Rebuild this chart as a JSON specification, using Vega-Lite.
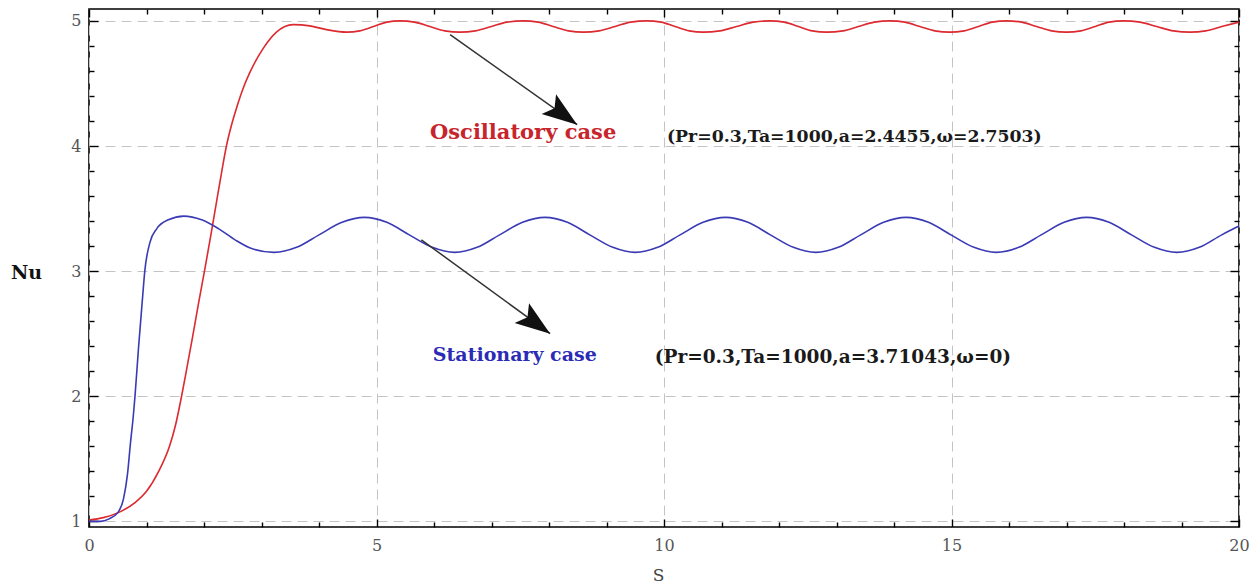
{
  "$schema": "https://vega.github.io/schema/vega-lite/v6.json",
  "width": 1150,
  "height": 518,
  "autosize": {"type": "none"},
  "padding": {"left": 89, "top": 9, "right": 17, "bottom": 58},
  "background": "white",
  "config": {
    "view": {"stroke": "black", "strokeWidth": 1.6},
    "axis": {"domain": false, "tickColor": "black", "tickWidth": 1.4}
  },
  "datasets": {
    "osc": [
      {"s": 0, "nu": 1.01}, {"s": 0.25, "nu": 1.03}, {"s": 0.51, "nu": 1.07}, {"s": 0.8, "nu": 1.15},
      {"s": 1.0, "nu": 1.24}, {"s": 1.2, "nu": 1.39}, {"s": 1.4, "nu": 1.6}, {"s": 1.5, "nu": 1.76},
      {"s": 1.61, "nu": 2.0}, {"s": 1.7, "nu": 2.22}, {"s": 1.8, "nu": 2.47}, {"s": 1.9, "nu": 2.73},
      {"s": 2.02, "nu": 3.03}, {"s": 2.12, "nu": 3.29}, {"s": 2.22, "nu": 3.56}, {"s": 2.31, "nu": 3.8},
      {"s": 2.39, "nu": 4.0}, {"s": 2.48, "nu": 4.17}, {"s": 2.57, "nu": 4.31}, {"s": 2.68, "nu": 4.46},
      {"s": 2.8, "nu": 4.59}, {"s": 3.03, "nu": 4.78}, {"s": 3.26, "nu": 4.91}, {"s": 3.55, "nu": 4.97},
      {"s": 3.84, "nu": 4.96}, {"s": 4.13, "nu": 4.93}, {"s": 4.48, "nu": 4.91}, {"s": 4.71, "nu": 4.92},
      {"s": 4.95, "nu": 4.955}, {"s": 5.18, "nu": 4.99}, {"s": 5.41, "nu": 5.0}, {"s": 5.66, "nu": 4.99},
      {"s": 5.93, "nu": 4.955}, {"s": 6.19, "nu": 4.92}, {"s": 6.45, "nu": 4.91}, {"s": 6.72, "nu": 4.92},
      {"s": 7.0, "nu": 4.955}, {"s": 7.27, "nu": 4.99}, {"s": 7.55, "nu": 5.0}, {"s": 7.81, "nu": 4.99},
      {"s": 8.07, "nu": 4.955}, {"s": 8.34, "nu": 4.92}, {"s": 8.6, "nu": 4.91}, {"s": 8.87, "nu": 4.92},
      {"s": 9.15, "nu": 4.955}, {"s": 9.42, "nu": 4.99}, {"s": 9.7, "nu": 5.0}, {"s": 9.95, "nu": 4.99},
      {"s": 10.19, "nu": 4.955}, {"s": 10.44, "nu": 4.92}, {"s": 10.68, "nu": 4.91}, {"s": 10.97, "nu": 4.92},
      {"s": 11.26, "nu": 4.955}, {"s": 11.55, "nu": 4.99}, {"s": 11.84, "nu": 5.0}, {"s": 12.09, "nu": 4.99},
      {"s": 12.34, "nu": 4.955}, {"s": 12.58, "nu": 4.92}, {"s": 12.83, "nu": 4.91}, {"s": 13.11, "nu": 4.92},
      {"s": 13.38, "nu": 4.955}, {"s": 13.66, "nu": 4.99}, {"s": 13.93, "nu": 5.0}, {"s": 14.19, "nu": 4.99},
      {"s": 14.45, "nu": 4.955}, {"s": 14.71, "nu": 4.92}, {"s": 14.97, "nu": 4.91}, {"s": 15.22, "nu": 4.92},
      {"s": 15.47, "nu": 4.955}, {"s": 15.71, "nu": 4.99}, {"s": 15.96, "nu": 5.0}, {"s": 16.22, "nu": 4.99},
      {"s": 16.48, "nu": 4.955}, {"s": 16.74, "nu": 4.92}, {"s": 17.0, "nu": 4.91}, {"s": 17.25, "nu": 4.92},
      {"s": 17.5, "nu": 4.955}, {"s": 17.74, "nu": 4.99}, {"s": 17.99, "nu": 5.0}, {"s": 18.28, "nu": 4.99},
      {"s": 18.57, "nu": 4.955}, {"s": 18.86, "nu": 4.92}, {"s": 19.15, "nu": 4.91}, {"s": 19.42, "nu": 4.92},
      {"s": 19.7, "nu": 4.955}, {"s": 20.0, "nu": 4.99}
    ],
    "stat": [
      {"s": 0, "nu": 1.0}, {"s": 0.2, "nu": 1.0}, {"s": 0.35, "nu": 1.02}, {"s": 0.5, "nu": 1.07},
      {"s": 0.6, "nu": 1.18}, {"s": 0.67, "nu": 1.38}, {"s": 0.72, "nu": 1.62}, {"s": 0.77, "nu": 1.84},
      {"s": 0.8, "nu": 2.0}, {"s": 0.86, "nu": 2.38}, {"s": 0.93, "nu": 2.78}, {"s": 0.97, "nu": 3.0},
      {"s": 1.06, "nu": 3.23}, {"s": 1.18, "nu": 3.34}, {"s": 1.38, "nu": 3.41}, {"s": 1.65, "nu": 3.44},
      {"s": 1.96, "nu": 3.41}, {"s": 2.25, "nu": 3.34}, {"s": 2.54, "nu": 3.25}, {"s": 2.83, "nu": 3.18},
      {"s": 3.22, "nu": 3.15}, {"s": 3.61, "nu": 3.19}, {"s": 4.0, "nu": 3.29}, {"s": 4.4, "nu": 3.39},
      {"s": 4.79, "nu": 3.43}, {"s": 5.18, "nu": 3.39}, {"s": 5.57, "nu": 3.29}, {"s": 5.97, "nu": 3.19},
      {"s": 6.36, "nu": 3.15}, {"s": 6.75, "nu": 3.19}, {"s": 7.14, "nu": 3.29}, {"s": 7.54, "nu": 3.39},
      {"s": 7.93, "nu": 3.43}, {"s": 8.32, "nu": 3.39}, {"s": 8.71, "nu": 3.29}, {"s": 9.11, "nu": 3.19},
      {"s": 9.5, "nu": 3.15}, {"s": 9.89, "nu": 3.19}, {"s": 10.28, "nu": 3.29}, {"s": 10.68, "nu": 3.39},
      {"s": 11.07, "nu": 3.43}, {"s": 11.46, "nu": 3.39}, {"s": 11.85, "nu": 3.29}, {"s": 12.25, "nu": 3.19},
      {"s": 12.64, "nu": 3.15}, {"s": 13.03, "nu": 3.19}, {"s": 13.42, "nu": 3.29}, {"s": 13.82, "nu": 3.39},
      {"s": 14.21, "nu": 3.43}, {"s": 14.6, "nu": 3.39}, {"s": 14.99, "nu": 3.29}, {"s": 15.39, "nu": 3.19},
      {"s": 15.78, "nu": 3.15}, {"s": 16.17, "nu": 3.19}, {"s": 16.56, "nu": 3.29}, {"s": 16.96, "nu": 3.39},
      {"s": 17.35, "nu": 3.43}, {"s": 17.74, "nu": 3.39}, {"s": 18.13, "nu": 3.29}, {"s": 18.53, "nu": 3.19},
      {"s": 18.92, "nu": 3.15}, {"s": 19.31, "nu": 3.19}, {"s": 19.7, "nu": 3.29}, {"s": 20.0, "nu": 3.36}
    ],
    "arrows": [
      {"s": 6.28, "nu": 4.89, "s2": 8.49, "nu2": 4.17},
      {"s": 5.78, "nu": 3.25, "s2": 8.02, "nu2": 2.5}
    ],
    "cases": [
      {"s": 5.93, "nu": 4.1, "text": "Oscillatory case", "kind": "osc"},
      {"s": 5.98, "nu": 2.33, "text": "Stationary case", "kind": "stat"}
    ],
    "params": [
      {"s": 10.05, "nu": 4.07, "text": "(Pr=0.3,Ta=1000,a=2.4455,ω=2.7503)", "group": "upper"},
      {"s": 9.84, "nu": 2.31, "text": "(Pr=0.3,Ta=1000,a=3.71043,ω=0)", "group": "lower"}
    ]
  },
  "resolve": {
    "axis": {"x": "independent", "y": "independent"},
    "scale": {"size": "independent", "color": "independent"}
  },
  "layer": [
    {
      "data": {"name": "osc"},
      "mark": {"type": "line", "color": "#dc2a30", "strokeWidth": 1.6, "interpolate": "monotone"},
      "encoding": {
        "x": {
          "field": "s", "type": "quantitative",
          "scale": {"domain": [0, 20], "nice": false, "zero": false},
          "axis": {
            "orient": "bottom",
            "values": [0, 1, 2, 3, 4, 5, 6, 7, 8, 9, 10, 11, 12, 13, 14, 15, 16, 17, 18, 19, 20],
            "labelExpr": "datum.value % 5 === 0 ? datum.label : ''",
            "tickSize": {"condition": {"test": "datum.value % 5 === 0", "value": -8}, "value": -5},
            "grid": true,
            "gridColor": "#c4c4c4",
            "gridDash": [10, 6],
            "gridOpacity": {"condition": {"test": "datum.value % 5 === 0", "value": 1}, "value": 0},
            "labelFont": "DejaVu Serif",
            "labelFontSize": 16,
            "labelColor": "#555555",
            "labelPadding": 18,
            "labelFlush": false,
            "title": "S",
            "titleFont": "DejaVu Serif",
            "titleFontSize": 17,
            "titleFontWeight": "normal",
            "titleColor": "#444444",
            "titleX": 569,
            "titleY": 48,
            "titleBaseline": "middle",
            "titleAlign": "center"
          }
        },
        "y": {
          "field": "nu", "type": "quantitative",
          "scale": {"domain": [0.955, 5.095], "nice": false, "zero": false},
          "axis": {
            "orient": "left",
            "values": [1, 1.2, 1.4, 1.6, 1.8, 2, 2.2, 2.4, 2.6, 2.8, 3, 3.2, 3.4, 3.6, 3.8, 4, 4.2, 4.4, 4.6, 4.8, 5],
            "labelExpr": "abs(datum.value - round(datum.value)) < 0.001 ? format(datum.value, 'd') : ''",
            "tickSize": {"condition": {"test": "abs(datum.value - round(datum.value)) < 0.001", "value": -9}, "value": -5},
            "grid": true,
            "gridColor": "#c4c4c4",
            "gridDash": [10, 6],
            "gridOpacity": {"condition": {"test": "abs(datum.value - round(datum.value)) < 0.001", "value": 1}, "value": 0},
            "labelFont": "DejaVu Serif",
            "labelFontSize": 16,
            "labelColor": "#555555",
            "labelPadding": 17,
            "title": "Nu",
            "titleFont": "DejaVu Serif",
            "titleFontSize": 19,
            "titleFontWeight": "bold",
            "titleColor": "#111111",
            "titleAngle": 0,
            "titleX": -63,
            "titleY": 263,
            "titleAlign": "center",
            "titleBaseline": "middle"
          }
        }
      }
    },
    {
      "data": {"name": "stat"},
      "mark": {"type": "line", "color": "#3a3ab4", "strokeWidth": 1.6, "interpolate": "monotone"},
      "encoding": {
        "x": {
          "field": "s", "type": "quantitative",
          "axis": {
            "orient": "top",
            "values": [0, 1, 2, 3, 4, 5, 6, 7, 8, 9, 10, 11, 12, 13, 14, 15, 16, 17, 18, 19, 20],
            "labels": false,
            "grid": false,
            "title": null,
            "tickSize": {"condition": {"test": "datum.value % 5 === 0", "value": -8}, "value": -5}
          }
        },
        "y": {
          "field": "nu", "type": "quantitative",
          "axis": {
            "orient": "right",
            "values": [1, 1.2, 1.4, 1.6, 1.8, 2, 2.2, 2.4, 2.6, 2.8, 3, 3.2, 3.4, 3.6, 3.8, 4, 4.2, 4.4, 4.6, 4.8, 5],
            "labels": false,
            "grid": false,
            "title": null,
            "tickSize": {"condition": {"test": "abs(datum.value - round(datum.value)) < 0.001", "value": -9}, "value": -5}
          }
        }
      }
    },
    {
      "data": {"name": "arrows"},
      "mark": {"type": "rule", "color": "#333333", "strokeWidth": 1.5},
      "encoding": {
        "x": {"field": "s", "type": "quantitative", "axis": null},
        "y": {"field": "nu", "type": "quantitative", "axis": null},
        "x2": {"field": "s2"},
        "y2": {"field": "nu2"}
      }
    },
    {
      "data": {"name": "arrows"},
      "mark": {
        "type": "point",
        "shape": "M0,0 L-2,-0.7 L-1.6,0 L-2,0.7 Z",
        "size": 1225,
        "angle": 36,
        "filled": true,
        "color": "#111111",
        "opacity": 1
      },
      "encoding": {
        "x": {"field": "s2", "type": "quantitative", "axis": null},
        "y": {"field": "nu2", "type": "quantitative", "axis": null}
      }
    },
    {
      "data": {"name": "cases"},
      "mark": {"type": "text", "font": "DejaVu Serif", "fontWeight": "bold", "align": "left", "baseline": "middle"},
      "encoding": {
        "x": {"field": "s", "type": "quantitative", "axis": null},
        "y": {"field": "nu", "type": "quantitative", "axis": null},
        "text": {"field": "text"},
        "size": {
          "field": "kind", "type": "nominal", "legend": null,
          "scale": {"domain": ["osc", "stat"], "range": [21, 19]}
        },
        "color": {
          "field": "kind", "type": "nominal", "legend": null,
          "scale": {"domain": ["osc", "stat"], "range": ["#c8242c", "#2b2bb5"]}
        }
      }
    },
    {
      "data": {"name": "params"},
      "mark": {"type": "text", "font": "DejaVu Serif", "fontWeight": "bold", "align": "left", "baseline": "middle", "color": "#1a1a1a"},
      "encoding": {
        "x": {"field": "s", "type": "quantitative", "axis": null},
        "y": {"field": "nu", "type": "quantitative", "axis": null},
        "text": {"field": "text"},
        "size": {
          "field": "group", "type": "nominal", "legend": null,
          "scale": {"domain": ["upper", "lower"], "range": [17.3, 18.5]}
        }
      }
    }
  ]
}
